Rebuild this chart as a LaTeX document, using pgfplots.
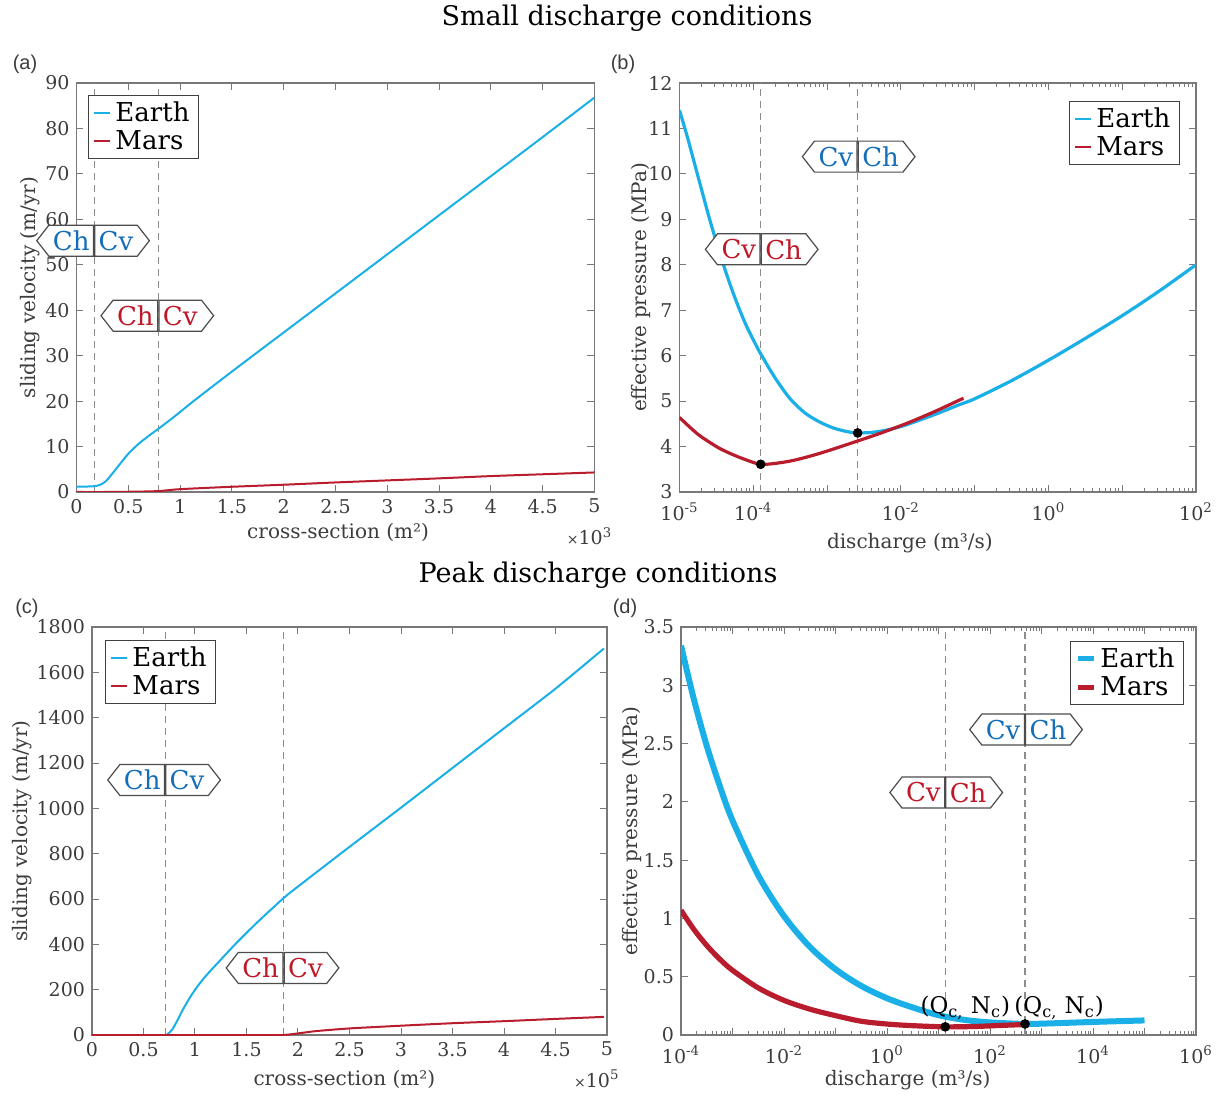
\documentclass[border=0pt]{standalone}
\usepackage{fontspec}
\setmainfont{DejaVu Serif}
\setsansfont{Liberation Sans}
\usepackage{pgfplots}
\pgfplotsset{compat=1.18}
\usetikzlibrary{shapes.symbols}

\definecolor{earth}{RGB}{26,175,230}
\definecolor{mars}{RGB}{185,28,44}
\definecolor{boxblue}{RGB}{20,110,185}
\definecolor{boxred}{RGB}{190,25,40}
\definecolor{axgray}{RGB}{120,120,120}
\definecolor{lblgray}{RGB}{60,60,60}
\definecolor{dashgray}{RGB}{140,140,140}

\pgfplotsset{
  panel/.style={
    scale only axis, anchor=north west, clip mode=individual,
    axis line style={draw=axgray, line width=0.6pt},
    tick style={draw=axgray, line width=0.5pt},
    tick align=inside, major tick length=3.5pt, minor tick length=2.2pt,
    ticklabel style={font=\fontsize{9.5}{10}\selectfont, text=lblgray},
    label style={font=\fontsize{10}{12}\selectfont, text=lblgray},
    xlabel style={anchor=center}, ylabel style={anchor=center},
    /pgf/number format/assume math mode=true,
    /pgf/number format/1000 sep={},
    legend cell align=left,
    legend style={font=\fontsize{13}{14}\selectfont, draw=black!75, line width=0.6pt,
      inner xsep=2.5pt, inner ysep=1pt, row sep=-1pt},
    legend image code/.code={\draw[##1,line width=1pt] (0pt,0pt) -- (8pt,0pt);},
  },
  thicklegend/.style={
    legend image code/.code={\draw[##1,line width=2.5pt] (0pt,0pt) -- (8pt,0pt);}},
}
\tikzset{
  dline/.style={dashgray, line width=0.6pt, dash pattern=on 3.5pt off 2.5pt},
  boxL/.style={shape=signal, signal to=west, draw=black!70, fill=white, line width=0.6pt,
    minimum height=15.5pt, inner xsep=2pt, inner ysep=0pt, signal pointer angle=104,
    anchor=east, font=\fontsize{13}{13}\selectfont},
  boxR/.style={boxL, signal to=east, anchor=west},
}

\begin{document}
\begin{tikzpicture}

% titles and panel letters
\node[font=\fontsize{13.5}{14}\selectfont] at (313.5pt,-9pt) {Small discharge conditions};
\node[font=\fontsize{13.5}{14}\selectfont] at (299pt,-287.5pt) {Peak discharge conditions};
\node[font=\sffamily\fontsize{10}{10}\selectfont, text=lblgray] at (12.5pt,-32pt) {(a)};
\node[font=\sffamily\fontsize{10}{10}\selectfont, text=lblgray] at (311.5pt,-32pt) {(b)};
\node[font=\sffamily\fontsize{10}{10}\selectfont, text=lblgray] at (13.5pt,-304pt) {(c)};
\node[font=\sffamily\fontsize{10}{10}\selectfont, text=lblgray] at (312.5pt,-304pt) {(d)};

% (a)
\begin{axis}[panel, at={(38.25pt,-41.5pt)}, width=259pt, height=204.5pt,
  xmin=0, xmax=5, ymin=0, ymax=90,
  xtick={0,0.5,...,5}, ytick={0,10,...,90},
  xlabel={cross-section (m²)}, ylabel={sliding velocity (m/yr)},
  xlabel style={at={(axis description cs:0.505,-0.098)}},
  ylabel style={at={(axis description cs:-0.09,0.5)}},
  legend style={at={(axis description cs:0.022,0.971)}, anchor=north west}]
\draw[dline] (axis cs:0.17,0) -- (axis cs:0.17,90);
\draw[dline] (axis cs:0.79,0) -- (axis cs:0.79,90);
\addplot[earth, line width=1pt, smooth, tension=0.5] coordinates {
  (0,1.2) (0.1,1.2) (0.18,1.3) (0.23,1.6) (0.28,2.3) (0.33,3.6) (0.4,5.6) (0.5,8.4)
  (0.6,10.6) (0.7,12.4) (0.79,13.9) (0.9,15.8) (1,17.6) (1.13,20.0) (1.5,26.5)
  (2,35.1) (2.5,43.7) (3,52.3) (3.5,60.9) (4,69.5) (4.5,78.1) (5,86.8)};
\addplot[mars, line width=1pt, smooth, tension=0.5] coordinates {
  (0,0) (0.3,0) (0.5,0.05) (0.79,0.2) (1,0.62) (1.5,1.15) (2,1.6) (2.5,2.1)
  (3,2.55) (3.5,3.0) (4,3.5) (4.5,3.9) (5,4.3)};
\legend{Earth, Mars}
\node[boxL, text=boxblue] at (axis cs:0.17,55.3) {Ch};
\node[boxR, text=boxblue] at (axis cs:0.17,55.3) {Cv};
\node[boxL, text=boxred] at (axis cs:0.79,38.8) {Ch};
\node[boxR, text=boxred] at (axis cs:0.79,38.8) {Cv};
\node[anchor=north east, font=\fontsize{9.5}{10}\selectfont, text=lblgray, inner sep=0pt]
  at (rel axis cs:1.035,-0.085) {{\fontsize{7}{7}\selectfont ×}10\textsuperscript{3}};
\end{axis}

% (b)
\begin{axis}[panel, at={(339.75pt,-41.5pt)}, width=258.25pt, height=204.5pt,
  xmode=log, xmin=1e-5, xmax=1e2, ymin=3, ymax=12, ytick={3,4,...,12},
  xtick={1e-5,1e-4,1e-3,1e-2,1e-1,1,10,100},
  minor xtick={2e-5,3e-5,4e-5,5e-5,6e-5,7e-5,8e-5,9e-5,
    2e-4,3e-4,4e-4,5e-4,6e-4,7e-4,8e-4,9e-4,
    2e-3,3e-3,4e-3,5e-3,6e-3,7e-3,8e-3,9e-3,
    0.02,0.03,0.04,0.05,0.06,0.07,0.08,0.09,
    0.2,0.3,0.4,0.5,0.6,0.7,0.8,0.9,
    2,3,4,5,6,7,8,9,20,30,40,50,60,70,80,90},
  xticklabels={10\textsuperscript{-5},10\textsuperscript{-4},,10\textsuperscript{-2},,10\textsuperscript{0},,10\textsuperscript{2}},
  xticklabel style={yshift=-2pt},
  xlabel={discharge (m³/s)}, ylabel={effective pressure (MPa)},
  xlabel style={at={(axis description cs:0.446,-0.125)}},
  ylabel style={at={(axis description cs:-0.0745,0.5)}},
  legend style={at={(axis description cs:0.969,0.956)}, anchor=north east}]
\draw[dline] (axis cs:1.26e-4,3) -- (axis cs:1.26e-4,12);
\draw[dline] (axis cs:2.6e-3,3) -- (axis cs:2.6e-3,12);
\addplot[earth, line width=1.6pt, smooth, tension=0.5] coordinates {
  (1e-5,11.4) (1.259e-5,10.85) (1.585e-5,10.25) (1.995e-5,9.65) (2.512e-5,9.05)
  (3.162e-5,8.5) (3.981e-5,7.98) (5.012e-5,7.5) (6.31e-5,7.07) (7.943e-5,6.68)
  (1e-4,6.35) (1.26e-4,6.04) (1.995e-4,5.5) (3.162e-4,5.05) (5.012e-4,4.74)
  (7.943e-4,4.54) (1.259e-3,4.4) (1.995e-3,4.32) (2.6e-3,4.3) (3.981e-3,4.31)
  (6.31e-3,4.36) (0.01,4.44) (0.01585,4.55) (0.03162,4.73) (0.0617,4.92)
  (0.1,5.05) (0.3162,5.45) (1,5.9) (3.162,6.38) (10,6.88) (31.62,7.42) (100,8.0)};
\addplot[mars, line width=1.6pt, smooth, tension=0.5] coordinates {
  (1e-5,4.64) (1.778e-5,4.27) (3.162e-5,4.0) (4.266e-5,3.89) (6.31e-5,3.77)
  (1e-4,3.65) (1.26e-4,3.61) (1.778e-4,3.62) (3.162e-4,3.68) (5.623e-4,3.78)
  (1e-3,3.9) (2.57e-3,4.12) (5.012e-3,4.28) (0.01,4.46) (0.01585,4.59)
  (0.03162,4.8) (0.0617,5.02) (0.0708,5.06)};
\addplot[only marks, mark=*, mark size=2.2pt, black, forget plot] coordinates {
  (1.26e-4,3.61) (2.6e-3,4.30)};
\legend{Earth, Mars}
\node[boxL, text=boxblue] at (axis cs:2.6e-3,10.38) {Cv};
\node[boxR, text=boxblue] at (axis cs:2.6e-3,10.38) {Ch};
\node[boxL, text=boxred] at (axis cs:1.26e-4,8.34) {Cv};
\node[boxR, text=boxred] at (axis cs:1.26e-4,8.34) {Ch};
\end{axis}

% (c)
\begin{axis}[panel, at={(46pt,-313.5pt)}, width=257.5pt, height=204pt,
  xmin=0, xmax=5, ymin=0, ymax=1800,
  xtick={0,0.5,...,5}, ytick={0,200,...,1800},
  xlabel={cross-section (m²)}, ylabel={sliding velocity (m/yr)},
  xlabel style={at={(axis description cs:0.49,-0.11)}},
  ylabel style={at={(axis description cs:-0.136,0.5)}},
  legend style={at={(axis description cs:0.025,0.968)}, anchor=north west}]
\draw[dline] (axis cs:0.71,0) -- (axis cs:0.71,1800);
\draw[dline] (axis cs:1.86,0) -- (axis cs:1.86,1800);
\addplot[earth, line width=1pt, smooth, tension=0.4] coordinates {
  (0,0) (0.35,0) (0.7,0) (0.74,6) (0.78,25) (0.83,65) (0.88,110) (0.95,165) (1.02,212)
  (1.1,258) (1.215,315) (1.4,405) (1.6,495) (1.86,604) (2,655) (2.5,830)
  (3,1003) (3.5,1178) (4,1353) (4.5,1528) (4.97,1705)};
\addplot[mars, line width=1pt, smooth, tension=0.4] coordinates {
  (0,0) (1,0) (1.5,0) (1.85,0) (2,7) (2.17,17) (2.5,29) (3,41) (3.5,52)
  (4,61) (4.5,71) (4.97,80)};
\legend{Earth, Mars}
\node[boxL, text=boxblue] at (axis cs:0.71,1125) {Ch};
\node[boxR, text=boxblue] at (axis cs:0.71,1125) {Cv};
\node[boxL, text=boxred] at (axis cs:1.86,296) {Ch};
\node[boxR, text=boxred] at (axis cs:1.86,296) {Cv};
\node[anchor=north east, font=\fontsize{9.5}{10}\selectfont, text=lblgray, inner sep=0pt]
  at (rel axis cs:1.025,-0.085) {{\fontsize{7}{7}\selectfont ×}10\textsuperscript{5}};
\end{axis}

% (d)
\begin{axis}[panel, thicklegend, at={(340.5pt,-313.5pt)}, width=257.5pt, height=204pt,
  xmode=log, xmin=1e-4, xmax=1e6, ymin=0, ymax=3.5, ytick={0,0.5,...,3.5},
  xtick={1e-4,1e-3,1e-2,1e-1,1,10,100,1e3,1e4,1e5,1e6},
  minor xtick={2e-4,3e-4,4e-4,5e-4,6e-4,7e-4,8e-4,9e-4,
    2e-3,3e-3,4e-3,5e-3,6e-3,7e-3,8e-3,9e-3,
    0.02,0.03,0.04,0.05,0.06,0.07,0.08,0.09,
    0.2,0.3,0.4,0.5,0.6,0.7,0.8,0.9,
    2,3,4,5,6,7,8,9,20,30,40,50,60,70,80,90,
    200,300,400,500,600,700,800,900,
    2000,3000,4000,5000,6000,7000,8000,9000,
    2e4,3e4,4e4,5e4,6e4,7e4,8e4,9e4,
    2e5,3e5,4e5,5e5,6e5,7e5,8e5,9e5},
  xticklabels={10\textsuperscript{-4},,10\textsuperscript{-2},,10\textsuperscript{0},,10\textsuperscript{2},,10\textsuperscript{4},,10\textsuperscript{6}},
  xticklabel style={yshift=-2pt},
  xlabel={discharge (m³/s)}, ylabel={effective pressure (MPa)},
  xlabel style={at={(axis description cs:0.44,-0.11)}},
  ylabel style={at={(axis description cs:-0.095,0.5)}},
  legend style={at={(axis description cs:0.977,0.966)}, anchor=north east}]
\draw[dline] (axis cs:13.5,0) -- (axis cs:13.5,3.5);
\draw[dline] (axis cs:479,0) -- (axis cs:479,3.5);
\addplot[earth, line width=3pt, smooth, tension=0.5] coordinates {
  (1e-4,3.34) (1.778e-4,2.88) (3.162e-4,2.48) (5.623e-4,2.14) (1e-3,1.84)
  (3.162e-3,1.37) (0.01,1.02) (0.03162,0.757) (0.1,0.564) (0.3162,0.421)
  (1,0.315) (3.162,0.236) (10,0.17) (31.62,0.13) (100,0.108) (479,0.095)
  (1585,0.1) (1e4,0.112) (1e5,0.125)};
\addplot[mars, line width=2.6pt, smooth, tension=0.5] coordinates {
  (1e-4,1.07) (1.778e-4,0.906) (3.162e-4,0.768) (5.623e-4,0.652) (1e-3,0.555)
  (3.162e-3,0.404) (0.01,0.297) (0.03162,0.222) (0.1,0.166) (0.3162,0.118)
  (1,0.094) (3.162,0.08) (13.5,0.07) (50,0.073) (158.5,0.082) (479,0.09)};
\addplot[only marks, mark=*, mark size=2.2pt, black, forget plot] coordinates {
  (13.5,0.07) (479,0.095)};
\legend{Earth, Mars}
\node[boxL, text=boxred] at (axis cs:13.5,2.08) {Cv};
\node[boxR, text=boxred] at (axis cs:13.5,2.08) {Ch};
\node[boxL, text=boxblue] at (axis cs:479,2.62) {Cv};
\node[boxR, text=boxblue] at (axis cs:479,2.62) {Ch};
\node[anchor=south west, font=\fontsize{11.5}{12}\selectfont, inner sep=0pt]
  at (axis cs:13.5,0.13) [xshift=-12.5pt] {(Q\textsubscript{c,} N\textsubscript{c})};
\node[anchor=south west, font=\fontsize{11.5}{12}\selectfont, inner sep=0pt]
  at (axis cs:479,0.13) [xshift=-5.5pt] {(Q\textsubscript{c,} N\textsubscript{c})};
\end{axis}

\pgfresetboundingbox
\useasboundingbox (0,0) rectangle (611.5pt,-548pt);
\end{tikzpicture}
\end{document}
